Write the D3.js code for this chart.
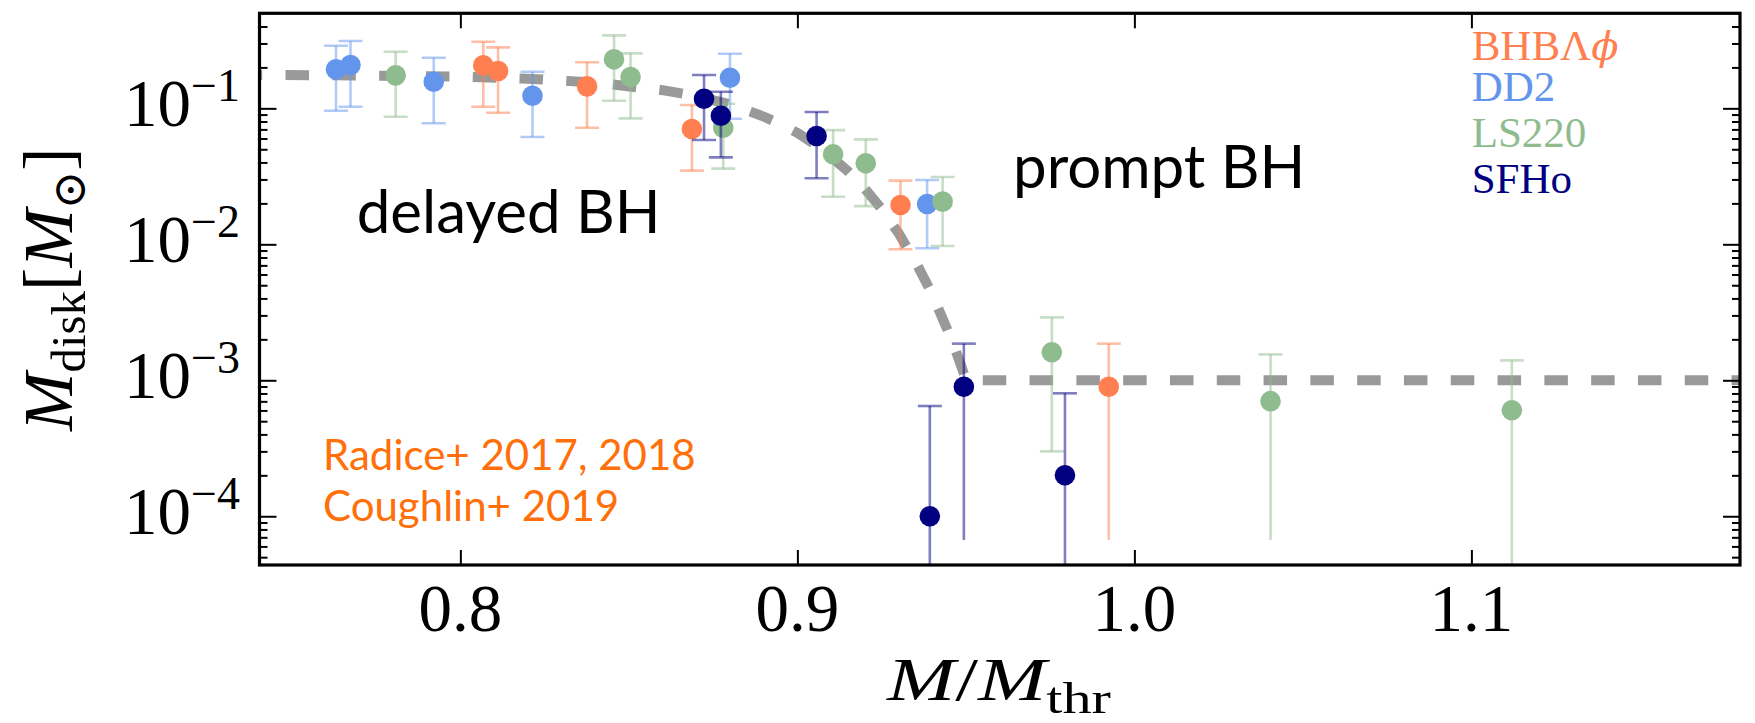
<!DOCTYPE html>
<html>
<head>
<meta charset="utf-8">
<script src="https://cdn.jsdelivr.net/npm/d3@7"></script>
<style>
  html, body { margin: 0; padding: 0; background: #fff; }
  svg { display: block; }
</style>
</head>
<body>
<svg id="chart" width="1755" height="723"></svg>
<script>
// ---------------- DATA ----------------
const xDomain = [0.7404, 1.1797];
const yDomain = [4.38e-5, 0.5];
const xTickValues = [0.8, 0.9, 1.0, 1.1];
const xTickLabels = ["0.8", "0.9", "1.0", "1.1"];
const yTickValues = [1e-1, 1e-2, 1e-3, 1e-4];
const yTickExponents = ["\u22121", "\u22122", "\u22123", "\u22124"];

const seriesNames = ["BHB\u039B", "DD2", "LS220", "SFHo"];

// BHBΛφ
const bhbX  = [0.8068, 0.8112, 0.8376, 0.8687, 0.9306, 0.9924];
const bhbY  = [0.207, 0.188, 0.145, 0.0704, 0.01945, 0.000897];
const bhbLo = [0.1028, 0.0928, 0.072, 0.0348, 0.00919, 6.7e-5];
const bhbHi = [0.309, 0.281, 0.218, 0.1057, 0.0294, 0.00186];
const bhbLoCap = [true, true, true, true, true, false];

// DD2
const dd2X  = [0.7631, 0.7674, 0.7921, 0.8214, 0.8800, 0.9385];
const dd2Y  = [0.1935, 0.2082, 0.1569, 0.1238, 0.1679, 0.01978];
const dd2Lo = [0.0960, 0.1028, 0.0777, 0.0615, 0.0839, 0.00935];
const dd2Hi = [0.2886, 0.3126, 0.2355, 0.1858, 0.252, 0.0297];
const dd2LoCap = [true, true, true, true, true, true];

// LS220
const lsX  = [0.7808, 0.8456, 0.8505, 0.8780, 0.9106, 0.9203, 0.9431, 0.9755, 1.0404, 1.1120];
const lsY  = [0.1748, 0.2293, 0.170, 0.072, 0.0459, 0.0394, 0.0206, 0.001607, 0.000702, 0.000602];
const lsLo = [0.0867, 0.1137, 0.0844, 0.036, 0.0224, 0.0191, 0.00972, 0.0003, 6.7e-5, 1e-5];
const lsHi = [0.2607, 0.344, 0.2537, 0.108, 0.0692, 0.0591, 0.0313, 0.0029, 0.00155, 0.0014];
const lsLoCap = [true, true, true, true, true, true, true, true, false, false];

// SFHo
const sfX  = [0.8723, 0.8773, 0.9057, 0.9393, 0.9494, 0.9794];
const sfY  = [0.1177, 0.0882, 0.0626, 1.0e-4, 0.000897, 0.0002];
const sfLo = [0.0585, 0.0436, 0.0306, 1e-5, 6.7e-5, 1e-5];
const sfHi = [0.1757, 0.1324, 0.094, 0.000647, 0.00186, 0.000802];
const sfLoCap = [true, true, true, false, false, false];

// dashed fit curve
const fitX = [0.70, 0.76, 0.80, 0.82, 0.84, 0.86, 0.87, 0.88, 0.89, 0.895, 0.90, 0.905, 0.91, 0.915, 0.92, 0.925, 0.93, 0.935, 0.94, 0.945, 0.9475, 0.9501, 1.18];
const fitY = [0.178, 0.175, 0.171, 0.165, 0.155, 0.136, 0.123, 0.107, 0.087, 0.0764, 0.066, 0.0548, 0.044, 0.0345, 0.0257, 0.0182, 0.0121, 0.00749, 0.0043, 0.0022, 0.00152, 0.001, 0.001];

// ---------------- LAYOUT ----------------
const plot = { left: 259.5, right: 1740, top: 13.3, bottom: 565 };
const svg = d3.select("#chart");

const x = d3.scaleLinear().domain(xDomain).range([plot.left, plot.right]);
const y = d3.scaleLog().domain(yDomain).range([plot.bottom, plot.top]);

const serif = "'Liberation Serif', 'DejaVu Serif', serif";
const sans = "Lato, 'Open Sans', sans-serif";

svg.append("defs").append("clipPath").attr("id", "clip")
  .append("rect")
  .attr("x", plot.left).attr("y", plot.top)
  .attr("width", plot.right - plot.left).attr("height", plot.bottom - plot.top);

const data = svg.append("g").attr("clip-path", "url(#clip)");

// fit line
const fitPts = fitX.map((v, i) => [v, fitY[i]]);
data.append("path")
  .attr("d", d3.line().x(d => x(d[0])).y(d => y(d[1]))(fitPts))
  .attr("fill", "none")
  .attr("stroke", "#999999")
  .attr("stroke-width", 10)
  .attr("stroke-dasharray", "23.5,23.3")
  .attr("stroke-dashoffset", 25);

// series
const series = [
  { xs: bhbX, ys: bhbY, lo: bhbLo, hi: bhbHi, cap: bhbLoCap, color: "#FF7F50" },
  { xs: dd2X, ys: dd2Y, lo: dd2Lo, hi: dd2Hi, cap: dd2LoCap, color: "#6495ED" },
  { xs: lsX,  ys: lsY,  lo: lsLo,  hi: lsHi,  cap: lsLoCap,  color: "#8FBC8F" },
  { xs: sfX,  ys: sfY,  lo: sfLo,  hi: sfHi,  cap: sfLoCap,  color: "#000080" }
];

const capHalf = 12;
series.forEach(s => {
  const g = data.append("g");
  const pts = s.xs.map((v, i) => ({ x: v, y: s.ys[i], lo: s.lo[i], hi: s.hi[i], cap: s.cap[i] }));
  const bars = g.append("g").attr("stroke", s.color).attr("stroke-opacity", 0.5).attr("stroke-width", 2.6);
  pts.forEach(p => {
    bars.append("line").attr("x1", x(p.x)).attr("x2", x(p.x)).attr("y1", y(p.hi)).attr("y2", y(p.lo));
    bars.append("line").attr("x1", x(p.x) - capHalf).attr("x2", x(p.x) + capHalf).attr("y1", y(p.hi)).attr("y2", y(p.hi));
    if (p.cap) {
      bars.append("line").attr("x1", x(p.x) - capHalf).attr("x2", x(p.x) + capHalf).attr("y1", y(p.lo)).attr("y2", y(p.lo));
    }
  });
  g.selectAll("circle").data(pts).join("circle")
    .attr("cx", d => x(d.x)).attr("cy", d => y(d.y)).attr("r", 10.3)
    .attr("fill", s.color);
});

// ---------------- AXES ----------------
const axes = svg.append("g");
const tickStyle = sel => {
  sel.select(".domain").remove();
  sel.selectAll(".tick line").attr("stroke", "#000").attr("stroke-width", 2);
  sel.selectAll(".tick text").remove();
};

axes.append("g").attr("transform", `translate(0,${plot.bottom})`)
  .call(d3.axisBottom(x).tickValues(xTickValues).tickSize(-15)).call(tickStyle);
axes.append("g").attr("transform", `translate(0,${plot.top})`)
  .call(d3.axisTop(x).tickValues(xTickValues).tickSize(-15)).call(tickStyle);

const yMinor = [];
for (let e = -5; e <= 0; e++) {
  for (let m = 2; m <= 9; m++) {
    const v = m * Math.pow(10, e);
    if (v > yDomain[0] && v < yDomain[1]) yMinor.push(v);
  }
}
axes.append("g").attr("transform", `translate(${plot.left},0)`)
  .call(d3.axisLeft(y).tickValues(yMinor).tickSize(-8)).call(tickStyle);
axes.append("g").attr("transform", `translate(${plot.right},0)`)
  .call(d3.axisRight(y).tickValues(yMinor).tickSize(-8)).call(tickStyle);
axes.append("g").attr("transform", `translate(${plot.left},0)`)
  .call(d3.axisLeft(y).tickValues(yTickValues).tickSize(-17)).call(tickStyle);
axes.append("g").attr("transform", `translate(${plot.right},0)`)
  .call(d3.axisRight(y).tickValues(yTickValues).tickSize(-17)).call(tickStyle);

svg.append("rect")
  .attr("x", plot.left).attr("y", plot.top)
  .attr("width", plot.right - plot.left).attr("height", plot.bottom - plot.top)
  .attr("fill", "none").attr("stroke", "#000").attr("stroke-width", 3.2);

// x tick labels
svg.append("g").selectAll("text").data(xTickValues).join("text")
  .attr("x", d => x(d)).attr("y", 631)
  .attr("text-anchor", "middle")
  .attr("font-family", serif).attr("font-size", 67)
  .text((d, i) => xTickLabels[i]);

// y tick labels 10^{-n}
const yl = svg.append("g").selectAll("text").data(yTickValues).join("text")
  .attr("x", 240).attr("y", d => y(d) + 17.7)
  .attr("text-anchor", "end")
  .attr("font-family", serif);
yl.append("tspan").attr("font-size", 67).text("10");
yl.append("tspan").attr("font-size", 46).attr("dy", -25.3).text((d, i) => yTickExponents[i]);

// x axis label
const xl = svg.append("text")
  .attr("x", 887).attr("y", 700)
  .attr("font-family", serif).attr("font-size", 62)
  .attr("textLength", 224).attr("lengthAdjust", "spacingAndGlyphs");
xl.append("tspan").attr("font-style", "italic").text("M");
xl.append("tspan").text("/");
xl.append("tspan").attr("font-style", "italic").text("M");
xl.append("tspan").attr("font-size", 44).attr("dy", 13).text("thr");

// y axis label
const ylab = svg.append("text")
  .attr("transform", `translate(71.7,${(plot.top + plot.bottom) / 2}) rotate(-90)`)
  .attr("text-anchor", "middle")
  .attr("font-family", serif).attr("font-size", 70);
ylab.append("tspan").attr("font-style", "italic").text("M");
ylab.append("tspan").attr("font-size", 49).attr("dy", 13).text("disk");
ylab.append("tspan").attr("dy", -13).text("[");
ylab.append("tspan").attr("font-style", "italic").text("M");
ylab.append("tspan").attr("font-size", 46).attr("dy", 13).attr("font-family", "'DejaVu Serif', serif").text("\u2299");
ylab.append("tspan").attr("dy", -13).text("]");

// legend (coloured names)
const legendColors = ["#FF7F50", "#6495ED", "#8FBC8F", "#000080"];
const legendBaselines = [60, 101, 147, 193];
const leg = svg.append("g").selectAll("text").data(seriesNames).join("text")
  .attr("x", 1471.7).attr("y", (d, i) => legendBaselines[i])
  .attr("font-family", serif).attr("font-size", 43)
  .attr("fill", (d, i) => legendColors[i])
  .text(d => d);
leg.filter((d, i) => i === 0).append("tspan")
  .attr("font-style", "italic").attr("font-family", "'DejaVu Serif', serif").attr("font-size", 40)
  .text("\u03D5");

// annotations
svg.append("text").attr("x", 356.7).attr("y", 233.3)
  .attr("font-family", sans).attr("font-size", 60).attr("fill", "#000")
  .text("delayed BH");
svg.append("text").attr("x", 1013).attr("y", 188)
  .attr("font-family", sans).attr("font-size", 60).attr("fill", "#000")
  .text("prompt BH");
svg.append("text").attr("x", 323).attr("y", 470)
  .attr("font-family", sans).attr("font-size", 42).attr("fill", "#FF6F0A")
  .text("Radice+ 2017, 2018");
svg.append("text").attr("x", 323).attr("y", 521)
  .attr("font-family", sans).attr("font-size", 42).attr("fill", "#FF6F0A")
  .text("Coughlin+ 2019");
</script>
</body>
</html>
